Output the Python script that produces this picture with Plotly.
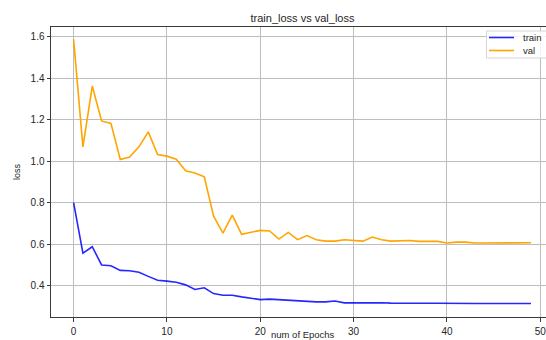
import plotly.graph_objects as go

epochs = list(range(50))

train_loss = [
    0.800, 0.556, 0.587, 0.499, 0.495, 0.473, 0.471, 0.464, 0.444, 0.425,
    0.421, 0.416, 0.403, 0.381, 0.389, 0.361, 0.353, 0.353, 0.345, 0.337,
    0.332, 0.334, 0.331, 0.328, 0.325, 0.325, 0.321, 0.321, 0.325, 0.316,
    0.317, 0.317, 0.317, 0.317, 0.315, 0.314, 0.314, 0.314, 0.314, 0.314,
    0.313, 0.313, 0.313, 0.313, 0.313, 0.313, 0.313, 0.313, 0.313, 0.313,
]

val_loss = [
    1.587, 1.069, 1.362, 1.194, 1.182, 1.008, 1.020, 1.069, 1.141, 1.032,
    1.024, 1.009, 0.953, 0.943, 0.924, 0.734, 0.653, 0.739, 0.647, 0.657,
    0.666, 0.663, 0.624, 0.656, 0.621, 0.641, 0.621, 0.614, 0.614, 0.621,
    0.618, 0.614, 0.634, 0.621, 0.614, 0.614, 0.617, 0.613, 0.614, 0.613,
    0.605, 0.609, 0.609, 0.605, 0.605, 0.605, 0.606, 0.607, 0.607, 0.606,
]

series_names = ["train", "val"]
series_colors = ["rgba(0,0,255,0.85)", "#ffa500"]

x_ticks = [0, 10, 20, 30, 40, 50]
y_ticks = [0.4, 0.6, 0.8, 1.0, 1.2, 1.4, 1.6]

W, H = 546, 340
ML, MT, MB = 51, 27, 23
PW, PH = W - ML, H - MT - MB


def px_x(p):
    return (p - ML) / PW


def px_y(p):
    return 1 - (p - MT) / PH


fig = go.Figure()
for name, ys, col in zip(series_names, [train_loss, val_loss], series_colors):
    fig.add_trace(go.Scatter(x=epochs, y=ys, mode="lines", name=name,
                             line=dict(color=col, width=1.6), showlegend=False))

font = "Liberation Sans, Arial, sans-serif"
axis_common = dict(
    automargin=False,
    showgrid=True, gridcolor="#bdbdbd", gridwidth=1,
    zeroline=False, showline=True, linecolor="#3a3a3a", linewidth=1,
    ticks="outside", ticklen=3.5, tickwidth=1, tickcolor="#3a3a3a",
    tickfont=dict(family=font, size=10, color="#262626"),
    ticklabeloverflow="allow",
)

# legend box drawn in the upper-right corner of the axes
shapes = [dict(type="rect", xref="paper", yref="paper",
               x0=px_x(486.5), x1=px_x(560), y0=px_y(58), y1=px_y(31),
               line=dict(color="#d6d6d6", width=1), fillcolor="rgba(255,255,255,0.8)",
               layer="above")]
annotations = []
for i, (name, col) in enumerate(zip(series_names, series_colors)):
    yy = px_y(37.5 + 13 * i)
    shapes.append(dict(type="line", xref="paper", yref="paper",
                       x0=px_x(489), x1=px_x(514), y0=yy, y1=yy,
                       line=dict(color=col, width=1.6), layer="above"))
    annotations.append(dict(text=name, xref="paper", yref="paper", x=px_x(521), y=yy,
                            xanchor="left", yanchor="middle", showarrow=False,
                            font=dict(family=font, size=9.5, color="#262626")))

# x-axis caption just below the tick labels
annotations.append(dict(text="num of Epochs", xref="paper", yref="paper",
                        x=px_x(302.5), y=px_y(334), xanchor="center", yanchor="middle",
                        showarrow=False, font=dict(family=font, size=9.5, color="#262626")))

fig.update_layout(
    template="none",
    width=W, height=H,
    margin=dict(l=ML, r=0, t=MT, b=MB, pad=0),
    paper_bgcolor="white", plot_bgcolor="white",
    font=dict(family=font, color="#262626"),
    title=dict(text="train_loss vs val_loss", x=(ML + 554) / 2 / W, xanchor="center",
               y=1 - 18.5 / H, yanchor="middle", font=dict(size=11, color="#262626")),
    xaxis=dict(axis_common, range=[-2.42, 50.61], tickvals=x_ticks, mirror=True,
               ticklabelstandoff=1),
    yaxis=dict(axis_common, range=[0.248, 1.647], tickvals=y_ticks,
               tickformat=".1f",
               title=dict(text="loss", standoff=8,
                          font=dict(size=9, color="#262626"))),
    shapes=shapes,
    annotations=annotations,
    showlegend=False,
)

fig.write_html("out.html")
